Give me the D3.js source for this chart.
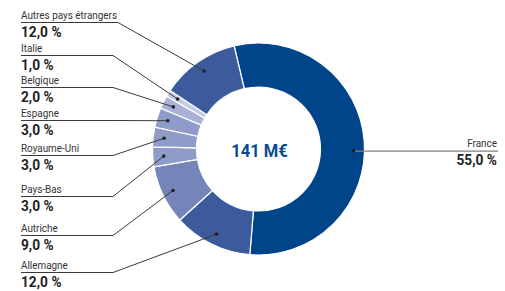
<!DOCTYPE html>
<html>
<head>
<meta charset="utf-8">
<script src="https://cdn.jsdelivr.net/npm/d3@7"></script>
<style>
  body { margin: 0; background: #fff; }
  svg text { font-family: Roboto, "Liberation Sans", sans-serif; }
</style>
</head>
<body>
<div id="chart"></div>
<script>
// data
var countries = ["France", "Allemagne", "Autriche", "Pays-Bas", "Royaume-Uni", "Espagne", "Belgique", "Italie", "Autres pays étrangers"];
var shares = [55, 12, 9, 3, 3, 3, 2, 1, 12];
var total = "141 M€";

var colors = ["#00448a", "#3b5b9c", "#7585b9", "#8f9bc8", "#8f9bc8", "#8f9bc8", "#a9b1d8", "#c4c9e5", "#3b5b9c"];

// label layout (name baseline), left column
var labelY = {
    "Autres pays étrangers": 19,
    "Italie": 52,
    "Belgique": 84,
    "Espagne": 117,
    "Royaume-Uni": 152,
    "Pays-Bas": 193,
    "Autriche": 232,
    "Allemagne": 269
};
// where the dot sits inside the slice (0..1 of its angle)
var dotFrac = { "France": 0.528 };

var width = 505,
    height = 291,
    cx = 258.5,
    cy = 149,
    outerR = 106,
    innerR = 62,
    dotR = 95,
    labelX = 21,
    nameScale = 0.84,
    pctScale = 0.98;

var svg = d3.select("#chart")
    .append("svg")
    .attr("width", width)
    .attr("height", height);

var start = -13.3 * Math.PI / 180;

var pie = d3.pie()
    .sort(null)
    .startAngle(start)
    .endAngle(start + 2 * Math.PI)
    .value(function (d) { return d; });

var arc = d3.arc()
    .innerRadius(innerR)
    .outerRadius(outerR);

var arcs = pie(shares);

var g = svg.append("g")
    .attr("transform", "translate(" + cx + "," + cy + ")");

g.selectAll("path")
    .data(arcs)
    .enter()
    .append("path")
    .attr("d", arc)
    .attr("fill", function (d, i) { return colors[i]; })
    .style("stroke", "#fff")
    .style("stroke-width", 1.2);

g.append("g")
    .attr("transform", "translate(1,7.5) scale(0.92,1)")
    .append("text")
    .attr("text-anchor", "middle")
    .style("font-size", "18px")
    .style("font-weight", "bold")
    .style("fill", "#0b4a93")
    .text(total);

function fmt(v) {
    return v.toFixed(1).replace(".", ",") + " %";
}

// condensed text: draw at origin of a scaled group
function label(x, y, txt, size, bold, sx, anchor) {
    var t = svg.append("g")
        .attr("transform", "translate(" + x + "," + y + ") scale(" + sx + ",1)")
        .append("text")
        .attr("text-anchor", anchor || "start")
        .style("font-size", size + "px")
        .style("font-weight", bold ? "bold" : "normal")
        .style("fill", bold ? "#222" : "#333")
        .text(txt);
    return t.node().getComputedTextLength() * sx;
}

arcs.forEach(function (d, i) {
    var name = countries[i];
    var f = dotFrac[name] !== undefined ? dotFrac[name] : 0.5;
    var a = d.startAngle + f * (d.endAngle - d.startAngle);
    var px = cx + dotR * Math.sin(a),
        py = cy - dotR * Math.cos(a);

    if (name === "France") {
        svg.append("line")
            .attr("x1", px).attr("y1", py)
            .attr("x2", 498).attr("y2", py)
            .style("stroke", "#808080")
            .style("stroke-width", 1.3);
        label(497, py - 4, name, 11.8, false, nameScale, "end");
        label(497, py + 14, fmt(shares[i]), 14, true, pctScale, "end");
    } else {
        var ly = labelY[name];
        var w = label(labelX, ly, name, 11.8, false, nameScale);
        label(labelX, ly + 17.5, fmt(shares[i]), 14, true, pctScale);
        var ul = ly + 3.5;
        var xe = Math.max(113, labelX + w + 1);
        svg.append("polyline")
            .attr("points", [[labelX, ul], [xe, ul], [px, py]].join(" "))
            .style("fill", "none")
            .style("stroke", "#3a3a3a")
            .style("stroke-width", 1);
    }

    svg.append("circle")
        .attr("cx", px).attr("cy", py)
        .attr("r", 1.8)
        .style("fill", "#222");
});
</script>
</body>
</html>
